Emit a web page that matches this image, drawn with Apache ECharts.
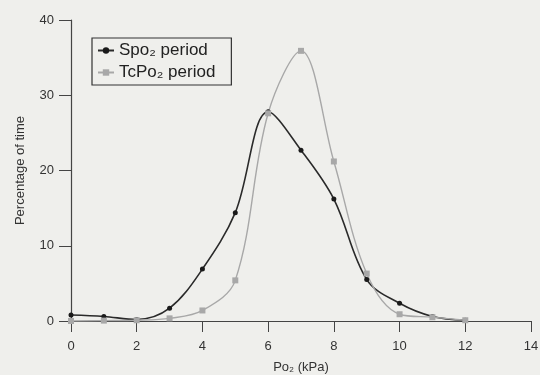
<!DOCTYPE html>
<html><head><meta charset="utf-8">
<script src="https://cdn.jsdelivr.net/npm/echarts@6/dist/echarts.min.js"></script>
<style>html,body{margin:0;padding:0;background:#efefec;}#c{width:540px;height:375px;}</style>
</head><body><div id="c"></div>
<script>
const xValues = [0,1,2,3,4,5,6,7,8,9,10,11,12];
const spo2 = [0.8,0.6,0.2,1.7,6.9,14.4,27.8,22.7,16.2,5.5,2.35,0.6,0.1];
const tcpo2 = [0,0.05,0.1,0.35,1.4,5.4,27.6,35.9,21.2,6.3,0.9,0.5,0.1];
const xTicks = [0,2,4,6,8,10,12,14];
const yTicks = [0,10,20,30,40];

const font = '"Liberation Sans", Arial, sans-serif';
const chart = echarts.init(document.getElementById('c'));
chart.setOption({
  backgroundColor: '#efefec',
  animation: false,
  grid: {left: 71, right: 9, top: 20, bottom: 54, containLabel: false, outerBoundsMode: 'none'},
  legend: {
    left: 92, top: 38, orient: 'vertical',
    borderColor: '#333', borderWidth: 1.2, padding: [4, 16, 4, 5], itemGap: 5,
    itemWidth: 16, itemHeight: 8,
    textStyle: {fontFamily: font, fontSize: 17, color: '#222'},
    data: [{name: 'Spo₂ period'}, {name: 'TcPo₂ period'}]
  },
  xAxis: {
    type: 'value', min: 0, max: 14, interval: 2,
    name: 'Po₂ (kPa)', nameLocation: 'middle', nameGap: 40,
    nameTextStyle: {fontFamily: font, fontSize: 13, color: '#333'},
    axisLine: {lineStyle: {color: '#444', width: 1.2}},
    axisTick: {show: true, length: 11, lineStyle: {color: '#444'}},
    axisLabel: {fontFamily: font, fontSize: 13, color: '#333', margin: 19,
      formatter: v => xTicks.includes(v) ? String(v) : ''},
    splitLine: {show: false}
  },
  yAxis: {
    type: 'value', min: 0, max: 40, interval: 10,
    name: 'Percentage of time', nameLocation: 'middle', nameGap: 44, nameRotate: 90,
    nameTextStyle: {fontFamily: font, fontSize: 13, color: '#333'},
    axisLine: {show: true, lineStyle: {color: '#444', width: 1.2}},
    axisTick: {show: true, length: 12, lineStyle: {color: '#444'}},
    axisLabel: {fontFamily: font, fontSize: 13, color: '#333', margin: 17,
      formatter: v => yTicks.includes(v) ? String(v) : ''},
    splitLine: {show: false}
  },
  series: [
    {
      name: 'Spo₂ period', type: 'line', smooth: 0.35,
      data: xValues.map((x, i) => [x, spo2[i]]),
      symbol: 'circle', symbolSize: 5,
      itemStyle: {color: '#1a1a1a'},
      lineStyle: {color: '#2a2a2a', width: 1.6}
    },
    {
      name: 'TcPo₂ period', type: 'line', smooth: 0.35,
      data: xValues.map((x, i) => [x, tcpo2[i]]),
      symbol: 'rect', symbolSize: 6,
      itemStyle: {color: '#a8a8a8'},
      lineStyle: {color: '#a8a8a8', width: 1.4}
    }
  ]
});
</script></body></html>
